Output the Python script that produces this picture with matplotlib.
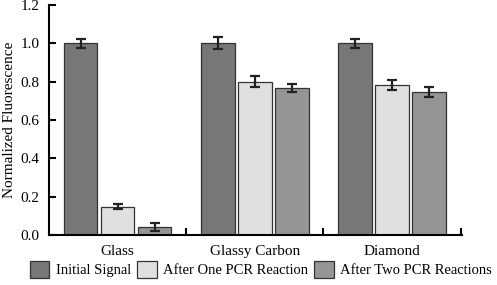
import numpy as np
import matplotlib
matplotlib.use("Agg")
import matplotlib.pyplot as plt

plt.rcParams['font.family'] = 'serif'
plt.rcParams['font.serif'] = ['Liberation Serif', 'DejaVu Serif']

substrates = ["Glass", "Glassy Carbon", "Diamond"]
series = ["Initial Signal", "After One PCR Reaction", "After Two PCR Reactions"]
initial = [1.0, 1.0, 1.0]
initial_err = [0.025, 0.032, 0.025]
one_pcr = [0.148, 0.80, 0.783]
one_err = [0.012, 0.028, 0.024]
two_pcr = [0.043, 0.766, 0.746]
two_err = [0.02, 0.022, 0.025]
colors = ["#777777", "#e0e0e0", "#959595"]

fig = plt.figure(figsize=(4.97, 2.85), dpi=100)
ax = fig.add_axes([49/497, 1-235/285, 413/497, 230/285])

x = np.arange(len(substrates))
w = 0.245
step = 0.27
for i, (vals, errs) in enumerate([(initial, initial_err), (one_pcr, one_err), (two_pcr, two_err)]):
    ax.bar(x + (i-1)*step, vals, w, color=colors[i], edgecolor="#333333", linewidth=0.9,
           label=series[i], yerr=errs, capsize=3.5,
           error_kw=dict(ecolor="#222222", elinewidth=1.6, capthick=1.6))

ax.set_xlim(-0.5, 2.51)
ax.set_ylim(0, 1.2)
ax.set_yticks(np.arange(0, 1.21, 0.2))
ax.set_yticklabels(["%.1f" % v for v in np.arange(0, 1.21, 0.2)], fontsize=11)
ax.set_xticks([0.5, 1.5, 2.5])
ax.set_xticklabels([])
ax.set_xticks(x, minor=True)
ax.set_xticklabels(substrates, minor=True, fontsize=11)
ax.tick_params(axis='x', which='minor', length=0, pad=7)
ax.tick_params(axis='x', which='major', direction='in', length=5, width=1.5)
ax.tick_params(axis='y', direction='in', length=5, width=1.5, pad=7)
for s in ["top", "right"]:
    ax.spines[s].set_visible(False)
for s in ["left", "bottom"]:
    ax.spines[s].set_linewidth(1.5)
ax.set_ylabel("Normalized Fluorescence", fontsize=11, labelpad=3)

fig.legend(loc="lower center", bbox_to_anchor=(0.525, 0.005), ncol=3, frameon=False,
           fontsize=10.5, handlelength=1.35, handleheight=1.35, columnspacing=0.4,
           handletextpad=0.45, borderaxespad=0)

fig.savefig("out.png", dpi=100)
